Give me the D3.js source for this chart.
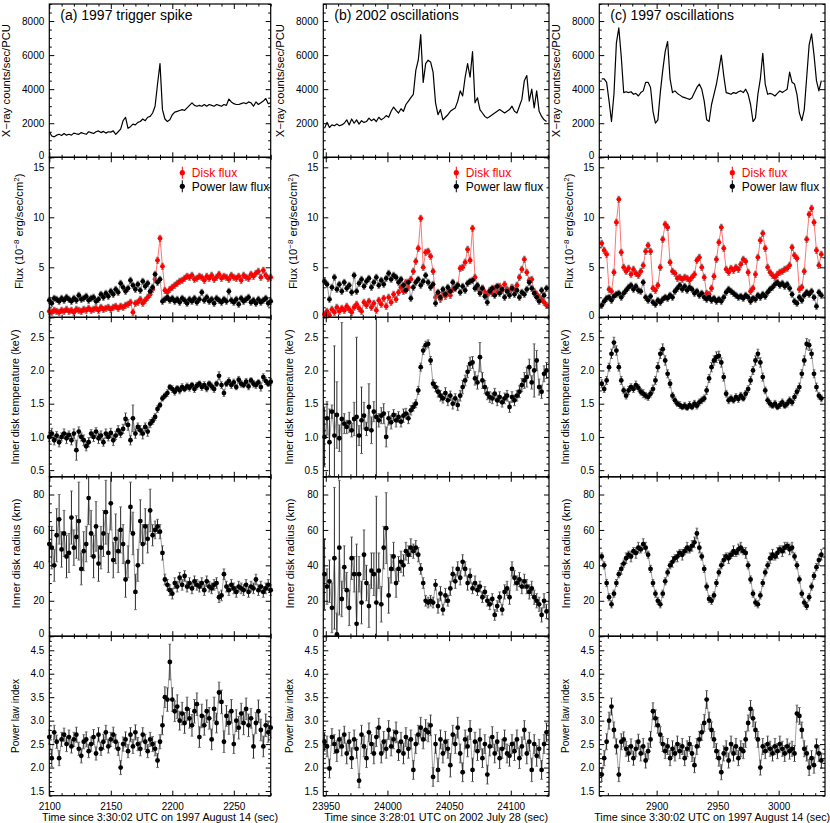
<!DOCTYPE html>
<html><head><meta charset="utf-8">
<script src="https://cdn.jsdelivr.net/npm/d3@7"></script>
<style>body{margin:0;background:#fff}</style>
</head><body><svg id="c" width="830" height="823"></svg>
<script>
// ---------------- DATA ----------------
const panelTitles = ["(a) 1997 trigger spike", "(b) 2002 oscillations", "(c) 1997 oscillations"];
const xTitles = ["Time since 3:30:02 UTC on 1997 August 14 (sec)", "Time since 3:28:01 UTC on 2002 July 28 (sec)", "Time since 3:30:02 UTC on 1997 August 14 (sec)"];
const yTitles = ["X\u2212ray counts/sec/PCU", "Flux", "Inner disk temperature  (keV)", "Inner disk radius  (km)", "Power law index"];
const legendLabels = ["Disk flux", "Power law flux"];
const xDomains = [[2100, 2280], [23948, 24131], [2853, 3038]];
const yDomains = [[0, 9000], [0, 16], [0.4, 2.8], [0, 90], [1.4, 4.8]];
const yTickLabels = [[0, 2000, 4000, 6000, 8000], [0, 5, 10, 15], [0.5, 1.0, 1.5, 2.0, 2.5], [0, 20, 40, 60, 80], [1.5, 2.0, 2.5, 3.0, 3.5, 4.0, 4.5]];
const yMinorStep = [500, 1, 0.1, 5, 0.1];
const xMajorStep = 50, xMinorStep = 10;

const timesA = d3.range(2100, 2281, 2);
const timesB = d3.range(23949, 24130, 2);
const timesC = d3.range(2855, 3036, 2);

// ---- column (a) ----
const lcA = [1500,1250,1200,1300,1350,1280,1400,1300,1350,1300,
 1420,1380,1350,1450,1400,1350,1500,1450,1400,1500,
 1550,1450,1520,1420,1500,1480,1550,1350,1500,1650,
 2150,2350,1700,1800,1950,1900,2050,2100,2250,2150,
 2350,2400,2600,3000,4300,5500,2800,2250,2100,2200,
 2500,2650,2700,2750,2800,2750,2900,3050,3200,3050,
 3000,3050,3000,3100,3000,3100,3050,3000,3100,3050,
 3000,3100,3050,3420,3250,3150,3100,3100,3150,3200,
 3150,3250,3200,3000,3250,3100,3200,3300,3450,3150,3200];
const diskA = [0.6,0.5,0.7,0.6,0.5,0.7,0.6,0.8,0.6,0.7,
 0.5,0.8,0.7,0.6,0.8,0.7,0.9,0.7,0.8,0.9,
 0.7,1.0,0.8,0.9,1.0,0.8,1.0,1.1,0.9,1.1,
 1.0,1.2,1.3,1.5,0.5,1.4,1.5,1.8,1.4,1.7,
 2.0,2.3,2.8,3.8,5.7,7.9,5.1,2.7,2.5,2.8,
 3.0,3.2,3.4,3.6,3.7,3.9,4.1,4.0,4.2,3.8,
 3.9,4.1,4.0,3.7,4.1,3.9,4.2,3.8,4.0,4.3,
 3.9,4.1,4.0,3.8,4.2,4.0,3.9,4.1,3.7,4.2,
 4.0,3.9,4.3,4.1,4.4,4.6,4.0,4.7,4.2,3.9,4.0];
const plA = [1.7,1.4,1.9,1.8,1.6,1.9,1.7,2.0,1.8,1.6,
 1.9,1.7,2.2,1.8,1.9,2.1,1.7,1.9,2.0,1.6,
 1.8,2.3,2.0,2.4,2.1,2.6,2.3,2.8,2.5,3.4,
 3.0,2.6,2.9,3.7,3.2,2.8,3.3,2.7,3.6,3.1,
 3.4,2.6,3.0,4.3,3.5,3.8,1.6,1.8,2.0,1.7,
 1.9,1.6,1.8,1.5,1.9,1.7,1.4,1.8,1.6,1.9,
 1.5,1.8,2.5,1.7,2.0,1.6,1.8,1.4,1.9,1.7,
 1.5,1.8,1.6,2.6,1.7,1.5,1.8,1.3,1.9,1.6,
 1.8,2.0,1.5,1.7,1.4,1.8,1.5,1.7,1.9,1.4,1.6];
const tempA = [1.00,1.05,0.95,1.02,0.92,1.00,1.05,0.98,1.03,0.95,
 1.05,0.80,1.08,1.00,0.95,0.86,0.92,1.05,1.00,1.08,
 0.98,1.02,0.92,1.05,1.00,1.06,0.95,1.02,1.10,1.05,
 1.12,1.27,1.18,0.95,1.28,1.05,1.15,1.10,1.05,1.15,
 1.08,1.20,1.24,1.30,1.42,1.48,1.58,1.62,1.66,1.75,
 1.72,1.68,1.73,1.70,1.75,1.72,1.76,1.74,1.78,1.72,
 1.77,1.80,1.75,1.78,1.73,1.80,1.76,1.72,1.80,1.92,
 1.78,1.66,1.80,1.84,1.78,1.82,1.75,1.86,1.80,1.78,
 1.83,1.76,1.85,1.80,1.78,1.82,1.75,1.90,1.84,1.80,1.83];
const tempErrA = [0.07,0.08,0.07,0.06,0.07,0.06,0.07,0.08,0.06,0.07,
 0.07,0.15,0.07,0.06,0.08,0.07,0.07,0.06,0.07,0.06,
 0.08,0.07,0.06,0.07,0.06,0.07,0.08,0.06,0.07,0.06,
 0.07,0.09,0.08,0.07,0.20,0.07,0.06,0.07,0.08,0.06,
 0.07,0.06,0.05,0.05,0.05,0.04,0.04,0.04,0.05,0.04,
 0.05,0.05,0.04,0.05,0.05,0.04,0.05,0.05,0.04,0.05,
 0.05,0.04,0.05,0.05,0.05,0.04,0.05,0.05,0.04,0.06,
 0.05,0.05,0.04,0.05,0.05,0.05,0.04,0.05,0.05,0.04,
 0.05,0.05,0.04,0.05,0.05,0.04,0.06,0.05,0.05,0.04,0.05];
const radA = [52,50,40,57,66,49,58,45,47,67,
 50,56,65,38,48,52,78,58,45,62,
 41,50,58,70,47,75,43,55,48,60,
 52,32,42,73,58,25,40,65,52,62,
 55,71,57,60,62,59,47,32,29,26,
 24,30,28,33,29,34,28,30,27,31,
 29,28,30,26,31,28,27,29,30,22,
 23,35,28,26,29,27,25,28,27,26,
 29,25,28,27,32,26,28,25,27,29,26];
const radErrA = [10,12,9,15,14,10,13,12,11,15,
 10,12,22,9,11,10,15,13,12,14,
 10,12,13,18,11,15,10,14,12,13,
 11,10,9,14,12,10,9,12,11,10,
 8,12,6,5,4,4,4,3,3,3,
 3,3,3,3,3,3,3,3,3,3,
 3,3,3,3,3,3,3,3,3,3,
 3,3,3,3,3,3,3,3,3,3,
 3,3,3,3,3,3,3,3,3,3,3];
const idxA = [2.65,2.20,2.75,2.55,2.20,2.60,2.70,2.50,2.65,2.45,
 2.60,2.70,2.40,2.25,2.55,2.60,2.35,2.50,2.65,2.30,
 2.70,2.40,2.55,2.75,2.45,2.60,2.70,2.55,2.40,2.00,
 2.50,2.60,2.35,2.70,2.45,2.75,2.50,2.40,2.70,2.55,
 2.35,2.60,2.50,2.40,2.15,2.55,2.90,3.50,3.45,4.25,
 3.45,3.20,3.30,3.00,3.15,2.95,3.25,3.05,2.90,3.20,
 3.35,2.65,3.10,2.90,3.20,3.05,2.60,3.25,2.95,3.60,
 3.40,2.55,3.10,2.95,3.20,2.50,3.00,2.85,3.15,2.95,
 3.25,2.90,3.05,2.45,2.95,3.20,2.80,2.45,2.90,2.75,2.85];
const idxErrA = [0.15,0.18,0.15,0.14,0.16,0.15,0.14,0.16,0.15,0.14,
 0.15,0.16,0.14,0.15,0.15,0.16,0.14,0.15,0.16,0.14,
 0.15,0.14,0.16,0.15,0.14,0.15,0.16,0.15,0.14,0.15,
 0.15,0.16,0.14,0.15,0.15,0.16,0.14,0.15,0.15,0.16,
 0.14,0.15,0.16,0.15,0.15,0.15,0.20,0.22,0.25,0.38,
 0.25,0.22,0.25,0.20,0.24,0.22,0.25,0.21,0.23,0.25,
 0.24,0.22,0.25,0.21,0.24,0.23,0.22,0.25,0.21,0.22,
 0.25,0.23,0.22,0.24,0.25,0.20,0.23,0.24,0.22,0.25,
 0.23,0.24,0.21,0.25,0.22,0.24,0.23,0.22,0.24,0.21,0.22];

// ---- column (b) ----
const lcB = [1700,2050,1750,1900,1850,1950,1850,1900,2000,2200,
 1900,2250,2000,2200,1950,2150,2050,2100,2300,2150,
 2250,2100,2350,2200,2300,2450,2350,2700,2950,2750,
 2600,2850,2700,3100,3300,3500,3700,5100,5700,7200,
 4400,5500,5700,5600,5000,3200,2500,2800,2200,2350,
 2500,2700,2800,2900,3300,3900,3600,4700,5500,4700,
 6200,3200,3500,2800,2600,2400,2300,2400,2500,2600,
 2700,2800,2700,2600,2700,2800,3000,2700,2600,3000,
 3400,4500,4800,3300,4000,2900,3900,2700,2400,2200,2100];
const diskB = [0.3,0.6,0.2,0.8,0.5,1.0,0.6,0.9,0.7,1.1,
 0.8,0.5,1.0,1.3,0.9,0.6,1.5,1.2,1.6,1.0,
 1.4,0.7,1.7,1.3,1.9,1.1,2.0,1.5,2.3,1.8,
 2.5,3.0,2.6,3.5,3.0,3.8,4.6,5.6,6.9,9.9,
 5.0,6.5,6.6,6.1,4.6,2.0,2.3,1.8,2.5,2.1,
 2.6,2.2,2.8,3.0,3.2,4.9,5.0,5.5,6.8,5.7,
 8.9,4.0,3.0,2.6,2.9,2.5,2.2,2.7,2.4,2.9,
 2.6,3.1,2.7,3.3,2.8,2.5,3.0,2.7,3.2,4.0,
 4.8,5.8,4.5,3.7,3.8,2.6,2.3,2.0,1.8,1.5,1.2];
const plB = [3.6,3.3,1.8,3.0,4.0,2.8,3.3,2.6,3.5,2.9,
 3.2,2.5,4.2,2.6,3.4,3.8,3.1,3.6,3.9,3.0,
 3.5,4.0,3.2,3.7,3.3,3.9,4.4,3.8,4.2,4.0,
 3.5,3.8,3.2,2.7,3.5,1.9,3.0,3.5,3.8,3.2,
 3.6,4.2,3.5,3.0,3.3,1.4,2.5,2.0,2.8,2.3,
 3.0,2.6,3.5,2.9,3.2,2.5,3.1,2.7,3.4,3.6,
 3.7,2.9,3.2,2.4,2.9,2.1,1.5,2.6,2.9,2.2,
 3.1,2.4,2.8,2.0,2.6,2.2,2.9,2.3,2.7,2.0,
 2.5,2.3,2.8,3.5,2.9,2.4,2.0,1.6,2.7,2.2,2.9];
const tempB = [1.00,1.28,0.92,1.38,1.02,1.33,0.98,1.27,1.20,1.15,
 1.22,1.10,1.27,1.30,1.02,1.25,1.32,1.12,1.45,1.10,
 1.38,1.30,1.25,1.32,1.35,1.00,1.28,1.22,1.33,1.25,
 1.30,1.23,1.32,1.35,1.28,1.40,1.45,1.50,1.70,2.05,
 2.30,2.38,2.40,2.15,1.80,1.75,1.68,1.62,1.58,1.66,
 1.55,1.62,1.50,1.58,1.48,1.62,1.75,1.85,1.98,2.10,
 2.12,1.88,1.82,2.20,1.85,1.75,1.65,1.60,1.58,1.65,
 1.55,1.60,1.52,1.58,1.62,1.45,1.60,1.55,1.62,1.68,
 1.78,1.85,1.90,2.05,1.82,2.00,2.15,1.75,1.68,1.95,2.00];
const tempErrB = [0.45,0.25,0.50,0.10,1.35,0.50,0.20,1.45,0.15,0.10,
 0.15,0.10,0.25,1.20,0.15,0.50,0.20,0.10,0.35,0.20,
 0.15,1.60,0.10,0.12,0.15,0.15,0.10,0.10,0.08,0.10,
 0.08,0.08,0.10,0.08,0.08,0.07,0.06,0.06,0.06,0.06,
 0.06,0.06,0.06,0.06,0.06,0.07,0.08,0.08,0.07,0.08,
 0.08,0.07,0.08,0.07,0.08,0.08,0.10,0.08,0.09,0.10,
 0.09,0.10,0.10,0.22,0.12,0.10,0.09,0.08,0.08,0.08,
 0.08,0.08,0.07,0.08,0.08,0.08,0.08,0.08,0.08,0.09,
 0.10,0.12,0.15,0.12,0.10,0.40,0.15,0.12,0.10,0.12,0.12];
const radB = [35,28,31,16,44,1,50,21,39,26,
 16,44,35,7,35,19,46,30,17,37,
 35,19,37,18,50,61,23,38,45,30,
 38,42,40,48,46,50,48,50,46,38,
 30,20,19,20,19,29,17,24,15,23,
 20,27,35,31,38,33,42,38,30,34,
 27,30,26,28,22,25,20,18,21,12,
 17,22,15,25,27,22,38,33,30,32,
 28,31,28,25,27,22,20,18,12,20,14];
const radErrB = [20,10,12,14,40,12,38,10,12,10,
 10,12,10,45,10,12,14,10,12,10,
 12,60,10,10,12,20,10,8,8,8,
 7,6,6,5,5,5,4,4,4,3,
 3,3,3,3,3,3,4,4,3,4,
 3,4,4,4,4,4,4,4,4,4,
 3,4,3,3,3,3,3,3,3,3,
 3,3,3,4,4,4,4,4,4,4,
 4,4,4,4,4,4,4,4,4,4,4];
const idxB = [2.55,2.45,1.98,2.65,2.50,2.35,2.60,2.45,2.70,2.30,
 2.55,2.20,2.60,2.40,1.72,2.70,2.45,2.20,2.75,2.50,
 2.30,2.65,2.85,2.30,2.55,2.40,2.80,2.45,2.60,2.75,
 2.35,2.55,2.30,2.65,2.40,2.60,1.95,2.50,2.70,2.85,
 2.60,2.80,2.75,2.90,1.80,2.50,1.95,2.60,2.30,2.55,
 2.40,2.05,2.70,2.50,2.85,2.30,1.90,2.60,2.45,2.80,
 1.95,2.55,2.35,2.60,2.20,2.50,1.85,2.45,2.65,2.30,
 2.55,2.20,2.40,2.60,2.30,2.25,2.50,2.35,2.60,2.20,
 2.45,2.80,2.30,2.55,1.95,2.50,2.25,2.40,1.95,2.50,2.75];
const idxErrB = [0.20,0.22,0.20,0.18,0.20,0.22,0.20,0.20,0.18,0.22,
 0.20,0.22,0.20,0.20,0.15,0.20,0.22,0.20,0.20,0.20,
 0.22,0.20,0.20,0.20,0.22,0.20,0.20,0.20,0.20,0.22,
 0.20,0.20,0.22,0.20,0.20,0.20,0.20,0.20,0.20,0.22,
 0.20,0.22,0.20,0.22,0.20,0.20,0.25,0.20,0.20,0.22,
 0.20,0.25,0.20,0.20,0.22,0.20,0.20,0.20,0.22,0.20,
 0.25,0.20,0.20,0.22,0.20,0.20,0.20,0.20,0.22,0.20,
 0.20,0.22,0.20,0.20,0.20,0.22,0.20,0.20,0.20,0.22,
 0.20,0.20,0.22,0.20,0.25,0.20,0.22,0.20,0.20,0.20,0.20];

// ---- column (c) ----
const lcC = [4600,4600,4400,3300,2100,3700,6700,7600,5900,3800,
 3850,3800,3850,3700,3750,3600,3800,3900,4400,4400,
 4100,2700,2000,2200,3800,5100,6200,6800,4600,3800,
 3900,3750,3650,3550,3500,3450,3400,3500,3800,4100,
 4300,4000,3300,2200,2100,3100,3700,4300,5100,6000,
 4800,3800,3750,3700,3800,3750,3850,3900,3800,4000,
 3700,3100,2100,2300,3700,4600,6100,4300,3700,3750,
 3700,3600,3750,3900,3800,3900,4000,5000,4400,4300,
 3700,2600,2150,2800,4700,6600,7250,6000,4500,3900,4500];
const diskC = [7.4,6.7,6.3,2.8,2.6,4.5,9.5,11.8,6.5,5.0,
 4.6,4.9,4.3,4.8,4.4,4.2,4.6,5.2,6.6,7.2,
 6.6,2.9,2.7,3.2,5.0,7.8,9.3,9.0,5.5,4.6,
 4.4,3.9,4.0,3.8,4.0,3.9,3.7,4.0,4.3,5.7,
 6.0,5.0,4.0,2.4,2.3,2.9,4.1,5.8,7.5,9.0,
 6.9,4.8,4.5,4.9,4.7,5.0,4.8,5.3,5.8,5.6,
 4.5,2.6,2.9,4.3,6.0,7.7,8.4,6.9,5.0,4.5,
 4.2,4.0,4.3,4.5,4.6,4.8,4.9,5.2,7.0,6.2,
 5.9,2.8,3.0,4.6,7.8,10.3,10.9,9.5,6.7,5.2,6.3];
const plC = [1.2,1.6,1.9,2.0,1.7,2.1,2.3,2.4,2.0,2.4,
 2.7,3.0,3.2,2.8,3.1,2.7,2.6,3.5,2.0,1.7,
 2.1,1.5,1.3,1.7,1.5,1.8,2.0,1.9,2.2,2.0,
 2.6,2.9,3.2,2.8,3.1,2.7,3.0,2.8,2.4,2.6,
 2.2,2.4,2.0,1.8,2.0,1.7,1.9,1.6,1.8,1.6,
 2.0,2.5,2.8,2.6,2.4,2.2,2.0,2.1,1.9,2.2,
 2.0,1.6,1.9,1.8,2.2,2.0,2.3,2.1,2.5,2.8,
 3.0,3.3,3.5,3.2,3.4,3.1,3.3,2.9,2.3,1.6,
 1.4,2.0,1.7,2.2,2.5,2.3,2.6,2.0,1.1,2.5,2.2];
const tempC = [1.80,1.72,1.85,2.05,2.25,2.42,2.30,2.05,1.85,1.70,
 1.62,1.70,1.75,1.72,1.78,1.74,1.68,1.65,1.62,1.60,
 1.65,1.72,1.85,2.05,2.25,2.32,2.15,1.95,1.80,1.62,
 1.55,1.50,1.48,1.45,1.47,1.44,1.48,1.45,1.50,1.47,
 1.52,1.55,1.58,1.70,1.88,2.05,2.15,2.20,2.22,2.12,
 1.90,1.65,1.55,1.58,1.55,1.60,1.57,1.62,1.58,1.65,
 1.72,1.85,2.00,2.15,2.25,2.12,1.90,1.70,1.55,1.50,
 1.47,1.50,1.45,1.48,1.52,1.47,1.50,1.55,1.52,1.60,
 1.68,1.75,1.95,2.15,2.40,2.38,2.25,1.95,1.75,1.62,1.58];
const tempErrC = [0.06,0.05,0.06,0.06,0.07,0.08,0.07,0.06,0.06,0.05,
 0.05,0.06,0.05,0.05,0.06,0.05,0.05,0.06,0.05,0.05,
 0.05,0.06,0.06,0.07,0.07,0.08,0.07,0.06,0.06,0.05,
 0.05,0.04,0.05,0.04,0.05,0.04,0.05,0.04,0.05,0.05,
 0.05,0.05,0.05,0.06,0.06,0.07,0.07,0.08,0.07,0.07,
 0.06,0.05,0.05,0.05,0.04,0.05,0.05,0.05,0.04,0.05,
 0.05,0.06,0.06,0.07,0.07,0.07,0.06,0.05,0.05,0.05,
 0.04,0.05,0.04,0.05,0.05,0.04,0.05,0.05,0.05,0.05,
 0.05,0.06,0.06,0.07,0.08,0.08,0.07,0.06,0.06,0.05,0.05];
const radC = [45,40,30,22,18,24,30,35,38,41,
 44,46,45,48,47,50,49,52,50,46,
 38,30,24,20,18,24,31,36,40,42,
 44,45,47,46,48,50,49,51,53,58,
 50,45,38,28,21,20,23,30,36,40,
 43,45,44,46,48,47,49,50,48,47,
 40,32,24,19,18,23,30,36,40,44,
 46,45,47,49,48,50,51,49,50,45,
 40,32,24,19,17,22,28,34,39,43,46];
const radErrC = [2,2,2,2,2,2,2,2,3,2,
 3,2,3,2,3,3,2,3,3,2,
 2,2,2,2,2,2,2,2,2,3,
 2,3,2,3,2,3,2,3,3,3,
 3,2,2,2,2,2,2,2,2,2,
 3,2,3,2,3,2,3,3,2,3,
 2,2,2,2,2,2,2,2,2,3,
 3,2,3,2,3,3,2,3,3,2,
 2,2,2,2,2,2,2,2,2,3,3];
const idxC = [1.85,2.20,2.55,3.00,3.30,2.80,2.45,1.85,2.55,2.60,
 2.40,2.30,2.45,2.20,2.40,2.55,2.30,2.45,2.15,2.35,
 2.60,3.20,3.05,2.90,2.70,2.50,2.35,2.45,2.20,2.40,
 2.30,2.50,2.35,2.45,2.20,2.40,2.50,2.30,2.05,2.45,
 2.60,2.75,2.95,3.45,3.00,2.80,2.60,2.35,2.20,1.90,
 2.30,2.40,2.15,2.50,2.30,2.45,2.20,2.40,2.35,2.60,
 2.95,3.25,3.05,2.80,2.60,2.00,2.45,2.35,2.50,2.40,
 2.30,2.45,2.35,2.50,2.40,2.30,2.45,2.35,2.40,2.30,
 3.15,3.10,2.80,2.40,2.30,2.00,2.20,2.05,2.45,2.30,2.15];
const idxErrC = [0.15,0.16,0.17,0.18,0.18,0.17,0.16,0.15,0.17,0.16,
 0.16,0.17,0.16,0.15,0.17,0.16,0.16,0.17,0.16,0.17,
 0.17,0.18,0.18,0.17,0.17,0.16,0.16,0.17,0.16,0.17,
 0.16,0.17,0.16,0.17,0.16,0.17,0.16,0.17,0.16,0.17,
 0.17,0.17,0.18,0.19,0.18,0.17,0.17,0.16,0.17,0.16,
 0.16,0.17,0.16,0.17,0.16,0.17,0.16,0.17,0.16,0.17,
 0.17,0.18,0.18,0.17,0.17,0.16,0.17,0.16,0.17,0.16,
 0.16,0.17,0.16,0.17,0.16,0.17,0.16,0.17,0.16,0.17,
 0.18,0.18,0.17,0.17,0.16,0.17,0.16,0.17,0.16,0.17,0.16];

const diskFluxErr = 0.3, plFluxErr = 0.3;

// ---------------- LAYOUT / STYLE ----------------
const FONT = '"Liberation Sans", Arial, Helvetica, sans-serif';
const colsX = [[49.3, 270.7], [323.3, 549], [599.3, 825]];
const rowsY = [[4, 157.3], [157.3, 317.3], [317.3, 476.8], [476.8, 636.2], [636.2, 795.7]];
const yTitleOffset = [39, 26, 30, 29, 30];
const yTitleCenterShift = [0, -6, 0, -3, 0];
const yTitleLength = [113, null, 135, 110, 74];
const xTitleLength = [236, 224, 236];
const markerR = 2.4;

const columns = [
  {t: timesA, lc: lcA, disk: diskA, pl: plA, temp: tempA, tempErr: tempErrA, rad: radA, radErr: radErrA, idx: idxA, idxErr: idxErrA},
  {t: timesB, lc: lcB, disk: diskB, pl: plB, temp: tempB, tempErr: tempErrB, rad: radB, radErr: radErrB, idx: idxB, idxErr: idxErrB},
  {t: timesC, lc: lcC, disk: diskC, pl: plC, temp: tempC, tempErr: tempErrC, rad: radC, radErr: radErrC, idx: idxC, idxErr: idxErrC}
];

const svg = d3.select('#c');
svg.append('rect').attr('width', 830).attr('height', 823).attr('fill', '#fff');

function stepTicks(d0, d1, step) {
  const out = [];
  for (let k = Math.ceil(d0 / step - 1e-9); k * step <= d1 + 1e-9; k++) out.push(+(k * step).toFixed(6));
  return out;
}
function styleAxis(sel) {
  sel.select('.domain').remove();
  sel.attr('font-family', FONT).attr('font-size', 10);
  sel.selectAll('line').attr('stroke', '#000').attr('stroke-width', 1);
  sel.selectAll('text').attr('fill', '#000');
}

function drawScatter(g, x, y, t, vals, errs, dom, color, lineColor) {
  const data = t.map((tt, i) => ({t: tt, v: vals[i], e: Array.isArray(errs) ? errs[i] : errs}))
               .filter(d => d.v != null);
  g.append('path').datum(data)
    .attr('d', d3.line().x(d => x(d.t)).y(d => y(d.v)))
    .attr('fill', 'none').attr('stroke', lineColor).attr('stroke-width', 0.8);
  const eb = g.append('g').attr('stroke', color === 'black' ? '#111' : color).attr('stroke-width', 0.9);
  eb.selectAll('line.v').data(data).join('line').attr('class', 'v')
    .attr('x1', d => x(d.t)).attr('x2', d => x(d.t))
    .attr('y1', d => y(Math.min(d.v + d.e, dom[1]))).attr('y2', d => y(Math.max(d.v - d.e, dom[0])));
  eb.selectAll('line.ct').data(data.filter(d => d.v + d.e <= dom[1])).join('line').attr('class', 'ct')
    .attr('x1', d => x(d.t) - 1.4).attr('x2', d => x(d.t) + 1.4)
    .attr('y1', d => y(d.v + d.e)).attr('y2', d => y(d.v + d.e)).attr('stroke', '#666');
  eb.selectAll('line.cb').data(data.filter(d => d.v - d.e >= dom[0])).join('line').attr('class', 'cb')
    .attr('x1', d => x(d.t) - 1.4).attr('x2', d => x(d.t) + 1.4)
    .attr('y1', d => y(d.v - d.e)).attr('y2', d => y(d.v - d.e)).attr('stroke', '#666');
  g.append('g').selectAll('circle').data(data).join('circle')
    .attr('cx', d => x(d.t)).attr('cy', d => y(d.v)).attr('r', markerR).attr('fill', color);
}

colsX.forEach((cx, c) => {
  const col = columns[c];
  const x = d3.scaleLinear().domain(xDomains[c]).range(cx);
  const xMaj = stepTicks(xDomains[c][0], xDomains[c][1], xMajorStep);
  const xMin = stepTicks(xDomains[c][0], xDomains[c][1], xMinorStep).filter(v => !xMaj.includes(v));

  rowsY.forEach((ry, r) => {
    const dom = yDomains[r];
    const y = d3.scaleLinear().domain(dom).range([ry[1], ry[0]]);
    const g = svg.append('g');

    if (r === 0) {
      g.append('path').datum(col.t.map((tt, i) => ({t: tt, v: col.lc[i]})))
        .attr('d', d3.line().x(d => x(d.t)).y(d => y(d.v)))
        .attr('fill', 'none').attr('stroke', '#000').attr('stroke-width', 1.2).attr('stroke-linejoin', 'round');
    } else if (r === 1) {
      drawScatter(g, x, y, col.t, col.disk, diskFluxErr, dom, '#ff0000', '#ff5050');
      drawScatter(g, x, y, col.t, col.pl, plFluxErr, dom, 'black', '#8a8a8a');
    } else if (r === 2) {
      drawScatter(g, x, y, col.t, col.temp, col.tempErr, dom, 'black', '#8a8a8a');
    } else if (r === 3) {
      drawScatter(g, x, y, col.t, col.rad, col.radErr, dom, 'black', '#8a8a8a');
    } else {
      drawScatter(g, x, y, col.t, col.idx, col.idxErr, dom, 'black', '#8a8a8a');
    }

    g.append('rect').attr('x', cx[0]).attr('y', ry[0]).attr('width', cx[1] - cx[0]).attr('height', ry[1] - ry[0])
      .attr('fill', 'none').attr('stroke', '#000').attr('stroke-width', 1.2);

    const fmtX = r === 4 ? d3.format('d') : () => '';
    g.append('g').attr('transform', `translate(0,${ry[1]})`)
      .call(d3.axisBottom(x).tickValues(xMaj).tickSizeInner(-5).tickSizeOuter(0).tickPadding(7.5).tickFormat(fmtX)).call(styleAxis);
    g.append('g').attr('transform', `translate(0,${ry[1]})`)
      .call(d3.axisBottom(x).tickValues(xMin).tickSizeInner(-2.5).tickSizeOuter(0).tickFormat('')).call(styleAxis);
    g.append('g').attr('transform', `translate(0,${ry[0]})`)
      .call(d3.axisTop(x).tickValues(xMaj).tickSizeInner(-5).tickSizeOuter(0).tickFormat('')).call(styleAxis);
    g.append('g').attr('transform', `translate(0,${ry[0]})`)
      .call(d3.axisTop(x).tickValues(xMin).tickSizeInner(-2.5).tickSizeOuter(0).tickFormat('')).call(styleAxis);

    const yMaj = yTickLabels[r];
    const yMin = stepTicks(dom[0], dom[1], yMinorStep[r]).filter(v => !yMaj.some(m => Math.abs(m - v) < 1e-6));
    const fmtY = (r === 2 || r === 4) ? d3.format('.1f') : d3.format('d');
    const la = g.append('g').attr('transform', `translate(${cx[0]},0)`)
      .call(d3.axisLeft(y).tickValues(yMaj).tickSizeInner(-5).tickSizeOuter(0).tickPadding(5).tickFormat(fmtY)).call(styleAxis);
    la.selectAll('.tick text').filter(d => Math.abs(d - dom[0]) < 1e-9).attr('y', -2.5);
    g.append('g').attr('transform', `translate(${cx[0]},0)`)
      .call(d3.axisLeft(y).tickValues(yMin).tickSizeInner(-2.5).tickSizeOuter(0).tickFormat('')).call(styleAxis);
    g.append('g').attr('transform', `translate(${cx[1]},0)`)
      .call(d3.axisRight(y).tickValues(yMaj).tickSizeInner(-5).tickSizeOuter(0).tickFormat('')).call(styleAxis);
    g.append('g').attr('transform', `translate(${cx[1]},0)`)
      .call(d3.axisRight(y).tickValues(yMin).tickSizeInner(-2.5).tickSizeOuter(0).tickFormat('')).call(styleAxis);

    const ty = (ry[0] + ry[1]) / 2 + yTitleCenterShift[r];
    const tx = cx[0] - yTitleOffset[r];
    const tt = g.append('text').attr('transform', `translate(${tx},${ty}) rotate(-90)`)
      .attr('text-anchor', 'middle').attr('font-family', FONT).attr('font-size', 10.5).attr('fill', '#000');
    if (r === 1) {
      tt.attr('font-size', 11.2);
      tt.append('tspan').text('Flux  (10');
      tt.append('tspan').attr('dy', -4.5).attr('font-size', 8).text('\u22128');
      tt.append('tspan').attr('dy', 4.5).text(' erg/sec/cm');
      tt.append('tspan').attr('dy', -4.5).attr('font-size', 8).text('2');
      tt.append('tspan').attr('dy', 4.5).text(')');
    } else {
      tt.text(yTitles[r]).attr('textLength', yTitleLength[r]).attr('lengthAdjust', 'spacingAndGlyphs');
    }

    if (r === 1) {
      const lx = cx[0] + 133;
      [[legendLabels[0], '#ff0000', ry[0] + 15.4], [legendLabels[1], '#000', ry[0] + 29]].forEach(([lab, colr, yy]) => {
        g.append('line').attr('x1', lx).attr('x2', lx).attr('y1', yy - 6).attr('y2', yy + 6).attr('stroke', colr).attr('stroke-width', 1);
        g.append('circle').attr('cx', lx).attr('cy', yy).attr('r', 2.6).attr('fill', colr);
        g.append('text').attr('x', lx + 9.5).attr('y', yy).attr('dy', '0.36em')
          .attr('font-family', FONT).attr('font-size', 12).attr('fill', colr).text(lab);
      });
    }
  });

  svg.append('text').attr('x', cx[0] + 11).attr('y', 19.5)
    .attr('font-family', FONT).attr('font-size', 14).attr('fill', '#000').text(panelTitles[c]);
  svg.append('text').attr('x', (cx[0] + cx[1]) / 2).attr('y', 821).attr('text-anchor', 'middle')
    .attr('font-family', FONT).attr('font-size', 10.5).attr('fill', '#000')
    .attr('textLength', xTitleLength[c]).attr('lengthAdjust', 'spacingAndGlyphs').text(xTitles[c]);
});
</script>
</body></html>
